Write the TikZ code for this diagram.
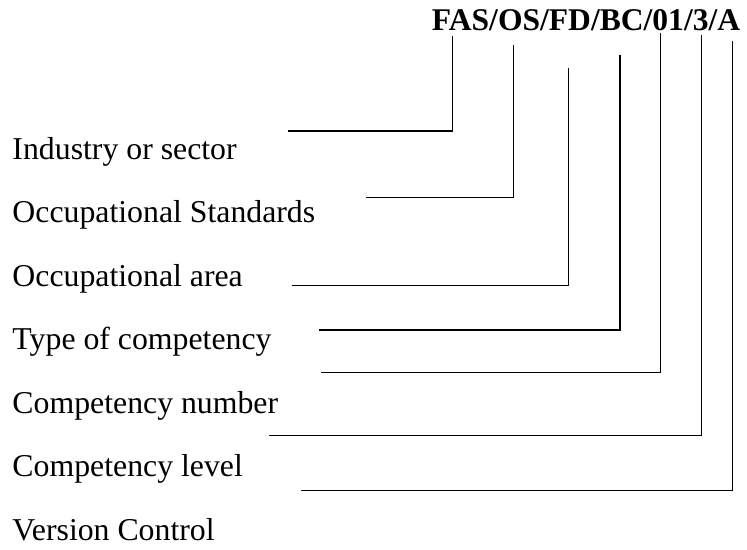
\documentclass[tikz,border=0pt]{standalone}
\usepackage{fontspec}
\setmainfont{Liberation Serif}
\begin{document}
\begin{tikzpicture}[x=1bp,y=-1bp,
  lbl/.style={anchor=base west,inner sep=0pt,font=\fontsize{31.9}{38}\selectfont},
  conn/.style={line width=1.3bp,black}]
\useasboundingbox (0,0) rectangle (747,550);
\node[lbl,font=\fontsize{31.7}{38}\selectfont\bfseries] (title) at (431.7,31) {FAS/OS/FD/BC/01/3/A};
\node[lbl] (l1) at (12.3,159.3) {Industry or sector};
\node[lbl] (l2) at (12.3,222.8) {Occupational Standards};
\node[lbl] (l3) at (12.3,286.2) {Occupational area};
\node[lbl] (l4) at (12.3,349.7) {Type of competency};
\node[lbl] (l5) at (12.3,413.1) {Competency number};
\node[lbl] (l6) at (12.3,476.6) {Competency level};
\node[lbl] (l7) at (12.3,540) {Version Control};
\coordinate (a1) at (452.3,36);  \coordinate (b1) at (288,131);
\coordinate (a2) at (513.3,45);  \coordinate (b2) at (365.7,197.7);
\coordinate (a3) at (568.3,68);  \coordinate (b3) at (292,285.7);
\coordinate (a4) at (620,55);    \coordinate (b4) at (319.3,330);
\coordinate (a5) at (660.7,33);  \coordinate (b5) at (320.7,372.7);
\coordinate (a6) at (701.7,35);  \coordinate (b6) at (269.3,435.7);
\coordinate (a7) at (732.3,40.7);\coordinate (b7) at (300.7,490.7);
\foreach \i in {1,...,7} {\draw[conn] (a\i) |- (b\i);}
\end{tikzpicture}
\end{document}
